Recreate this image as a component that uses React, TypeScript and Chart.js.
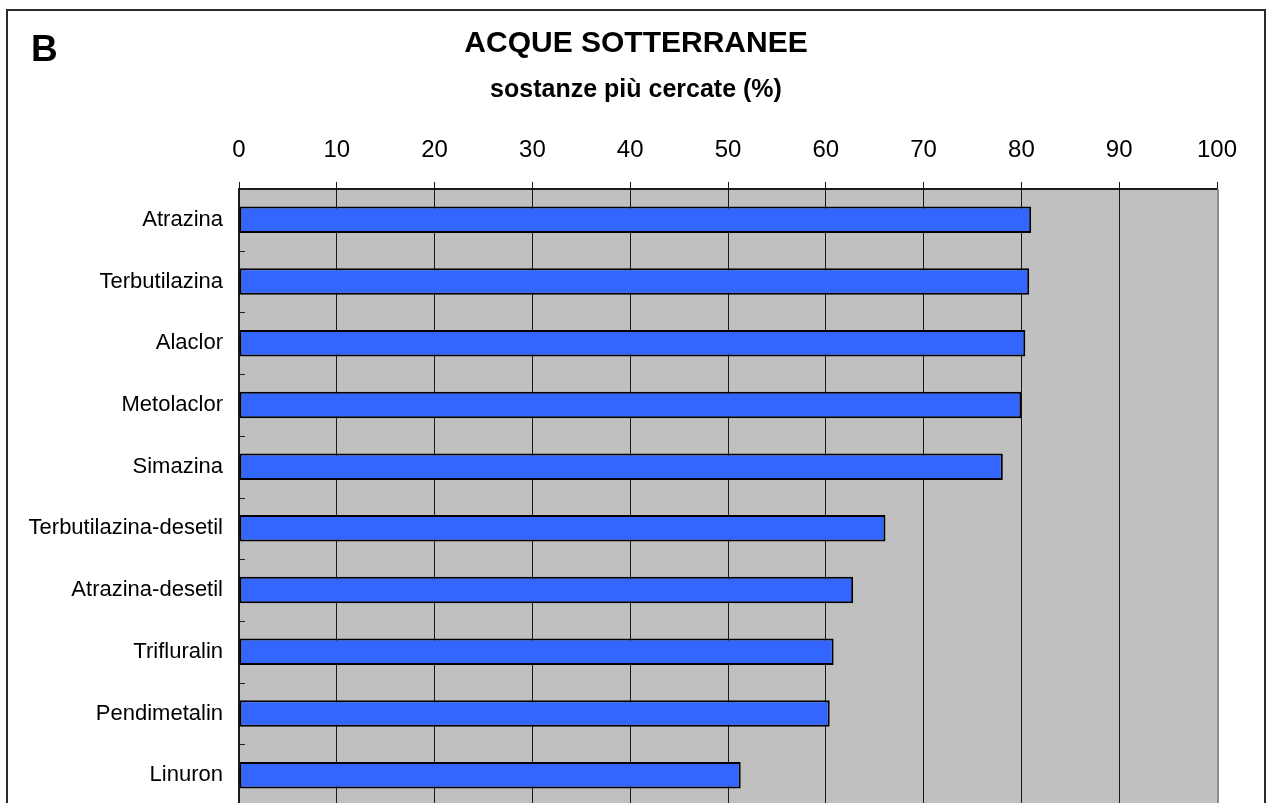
import React, { useEffect, useRef } from "react";
import { Chart, registerables } from "chart.js";

Chart.register(...registerables);

const panelLabel = "B";
const titleText = "ACQUE SOTTERRANEE";
const subtitleText = "sostanze più cercate (%)";
const categories = [
  "Atrazina",
  "Terbutilazina",
  "Alaclor",
  "Metolaclor",
  "Simazina",
  "Terbutilazina-desetil",
  "Atrazina-desetil",
  "Trifluralin",
  "Pendimetalin",
  "Linuron",
];
const values = [81.0, 80.8, 80.4, 80.0, 78.1, 66.1, 62.8, 60.8, 60.4, 51.3];
const xMin = 0;
const xMax = 100;
const xStep = 10;

const FONT = "'Liberation Sans', Arial, Helvetica, sans-serif";
const W = 1269;
const H = 812;

const decorPlugin = {
  id: "decor",
  beforeDraw(chart: any) {
    const { ctx, chartArea } = chart;
    ctx.save();
    ctx.fillStyle = "#ffffff";
    ctx.fillRect(0, 0, chart.width, chart.height);
    ctx.fillStyle = "#C0C0C0";
    ctx.fillRect(chartArea.left, chartArea.top, chartArea.right - chartArea.left, chartArea.bottom - chartArea.top);
    // outer frame
    ctx.strokeStyle = "#2a2a2a";
    ctx.lineWidth = 2;
    ctx.beginPath();
    ctx.moveTo(7, chart.height + 5);
    ctx.lineTo(7, 10);
    ctx.lineTo(1265, 10);
    ctx.lineTo(1265, chart.height + 5);
    ctx.stroke();
    // texts
    ctx.fillStyle = "#000";
    ctx.textBaseline = "alphabetic";
    ctx.textAlign = "left";
    ctx.font = `bold 37px ${FONT}`;
    ctx.fillText(panelLabel, 31, 61);
    ctx.textAlign = "center";
    ctx.font = `bold 30px ${FONT}`;
    ctx.fillText(titleText, 636, 52);
    ctx.font = `bold 25px ${FONT}`;
    ctx.fillText(subtitleText, 636, 97);
    ctx.restore();
  },
  afterDatasetsDraw(chart: any) {
    const { ctx, chartArea } = chart;
    const n = categories.length;
    const step = (chartArea.bottom - chartArea.top) / n;
    ctx.save();
    ctx.strokeStyle = "#222";
    ctx.lineWidth = 1;
    ctx.beginPath();
    for (let i = 0; i <= n; i++) {
      const y = Math.round(chartArea.top + i * step) + 0.5;
      ctx.moveTo(chartArea.left, y);
      ctx.lineTo(chartArea.left + 6, y);
    }
    ctx.stroke();
    // right edge of plot
    ctx.strokeStyle = "#8c8c8c";
    ctx.lineWidth = 2;
    ctx.beginPath();
    ctx.moveTo(chartArea.right + 1, chartArea.top);
    ctx.lineTo(chartArea.right + 1, chartArea.bottom);
    ctx.stroke();
    ctx.restore();
  },
};

export default function App() {
  const ref = useRef<HTMLCanvasElement | null>(null);
  useEffect(() => {
    if (!ref.current) return;
    const chart = new Chart(ref.current, {
      type: "bar",
      data: {
        labels: categories,
        datasets: [
          {
            data: values,
            backgroundColor: "#3366FF",
            borderColor: "#000000",
            borderWidth: 2,
            borderSkipped: false,
            categoryPercentage: 1,
            barPercentage: 0.43,
          },
        ],
      },
      options: {
        indexAxis: "y",
        responsive: false,
        animation: false,
        devicePixelRatio: 1,
        layout: { padding: { top: 0, left: 0, right: 52, bottom: 6 } },
        plugins: {
          legend: { display: false },
          tooltip: { enabled: false },
          title: { display: false },
        },
        scales: {
          x: {
            position: "top",
            min: xMin,
            max: xMax,
            ticks: {
              stepSize: xStep,
              color: "#000",
              font: { family: FONT, size: 24 },
              padding: 17,
              maxRotation: 0,
            },
            grid: {
              color: "#1a1a1a",
              lineWidth: 1,
              tickLength: 7,
              drawOnChartArea: true,
            },
            border: { display: true, color: "#1a1a1a", width: 2 },
            afterFit(scale: any) {
              scale.height = 189;
            },
          },
          y: {
            ticks: {
              color: "#000",
              font: { family: FONT, size: 22 },
              padding: 16,
            },
            grid: { display: false, drawTicks: false },
            border: { display: true, color: "#1a1a1a", width: 2 },
            afterFit(scale: any) {
              scale.width = 239;
              scale.paddingTop = 0;
              scale.paddingBottom = 0;
            },
          },
        },
      },
      plugins: [decorPlugin],
    });
    return () => chart.destroy();
  }, []);
  return (
    <div style={{ position: "fixed", left: 0, top: 0, width: W, height: H }}>
      <canvas ref={ref} width={W} height={H} style={{ display: "block", width: W, height: H }} />
    </div>
  );
}
